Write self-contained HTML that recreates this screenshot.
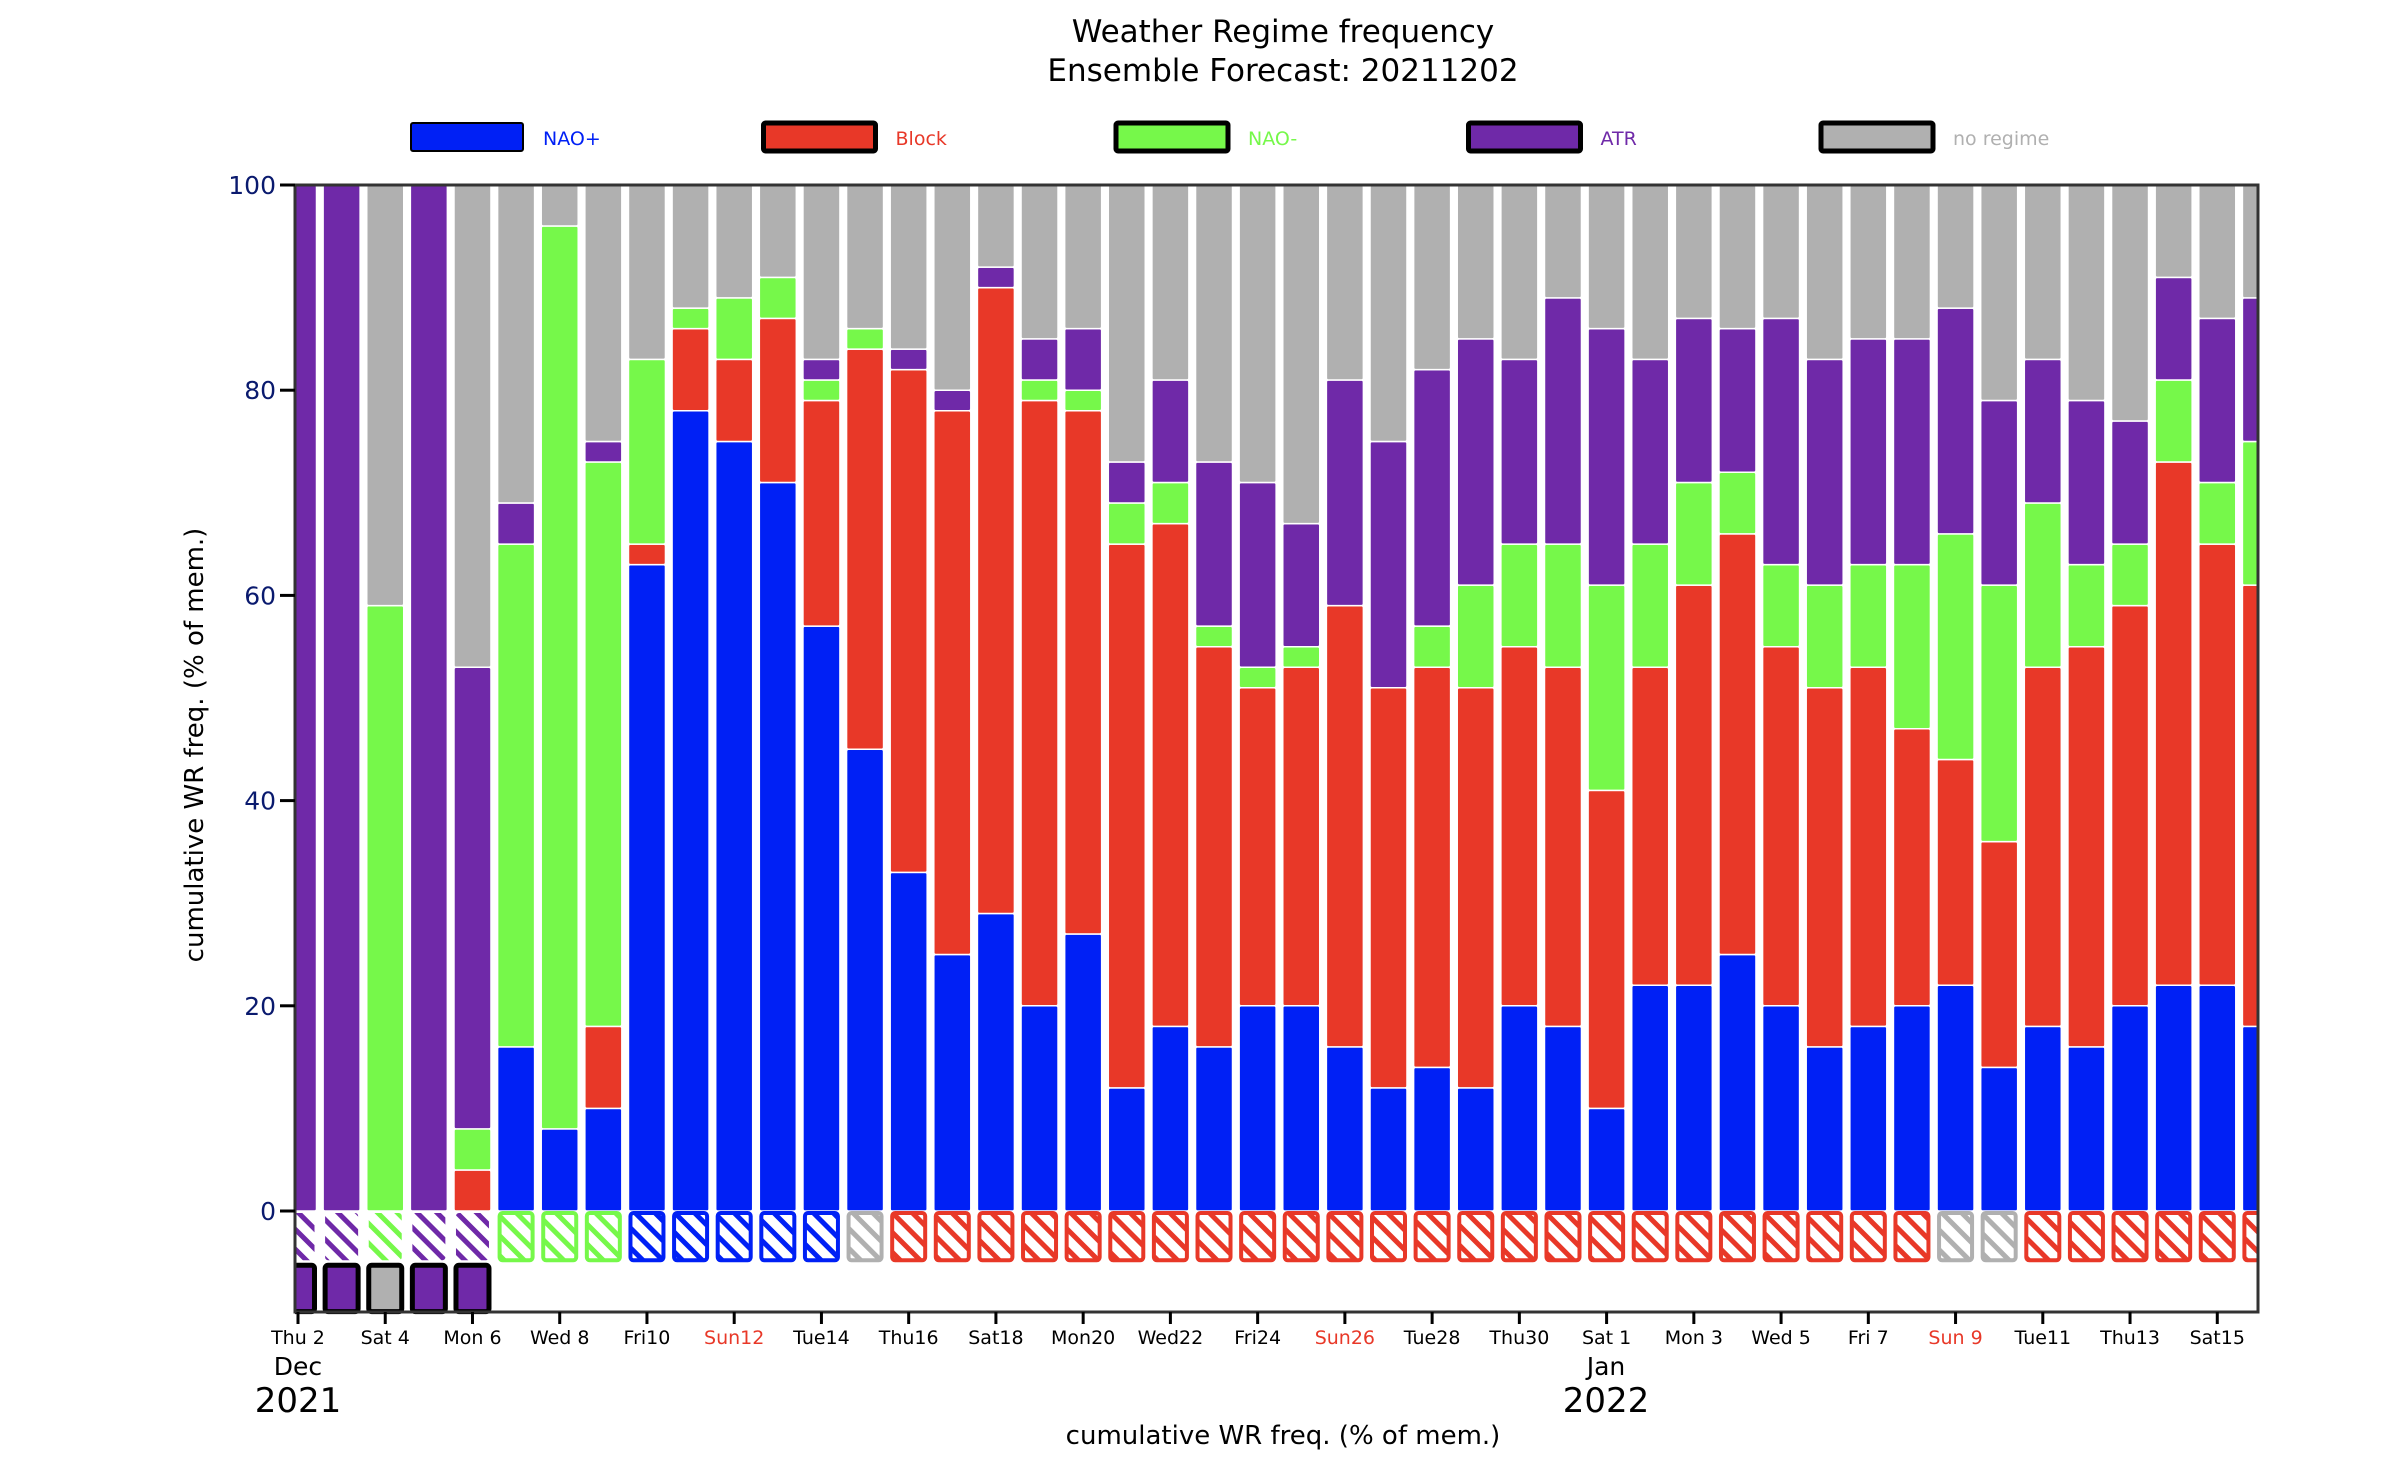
<!DOCTYPE html>
<html><head><meta charset="utf-8"><style>
body{margin:0;background:#fff}
svg{display:block;font-family:"DejaVu Sans","Liberation Sans",sans-serif}
</style></head><body>
<svg id="chart" width="2400" height="1457" viewBox="0 0 2400 1457" xmlns="http://www.w3.org/2000/svg">
<defs>
<clipPath id="plotclip"><rect x="295" y="150" width="1963" height="1170"/></clipPath>
</defs>
<text x="1283" y="42" font-size="31" text-anchor="middle">Weather Regime frequency</text>
<text x="1283" y="81" font-size="31" text-anchor="middle">Ensemble Forecast: 20211202</text>
<g id="legend"></g>
<g id="bars" clip-path="url(#plotclip)"></g>
<rect x="295" y="185" width="1963" height="1127" fill="none" stroke="#333" stroke-width="3"/>
<g id="axes"></g>
<text transform="translate(203,745) rotate(-90)" font-size="26" text-anchor="middle">cumulative WR freq. (% of mem.)</text>
<text x="1283" y="1444" font-size="26" text-anchor="middle">cumulative WR freq. (% of mem.)</text>
<text x="298" y="1375" font-size="25" text-anchor="middle">Dec</text>
<text x="298" y="1412" font-size="34" text-anchor="middle">2021</text>
<text x="1606" y="1375" font-size="25" text-anchor="middle">Jan</text>
<text x="1606" y="1412" font-size="34" text-anchor="middle">2022</text>
</svg>
<script>
const regimes = ["NAO+","Block","NAO-","ATR","no regime"];
const colors = ["#0020f5","#e83828","#76f84a","#6f29a8","#b0b0b0"];
const naoPlus = [0,0,0,0,0,16,8,10,63,78,75,71,57,45,33,25,29,20,27,12,18,16,20,20,16,12,14,12,20,18,10,22,22,25,20,16,18,20,22,14,18,16,20,22,22,18];
const block = [0,0,0,0,4,0,0,8,2,8,8,16,22,39,49,53,61,59,51,53,49,39,31,33,43,39,39,39,35,35,31,31,39,41,35,35,35,27,22,22,35,39,39,51,43,43];
const naoMinus = [0,0,59,0,4,49,88,55,18,2,6,4,2,2,0,0,0,2,2,4,4,2,2,2,0,0,4,10,10,12,20,12,10,6,8,10,10,16,22,25,16,8,6,8,6,14];
const atr = [100,100,0,100,45,4,0,2,0,0,0,0,2,0,2,2,2,4,6,4,10,16,18,12,22,24,25,24,18,24,25,18,16,14,24,22,22,22,22,18,14,16,12,10,16,14];
const dominant = [3,3,2,3,3,2,2,2,0,0,0,0,0,4,1,1,1,1,1,1,1,1,1,1,1,1,1,1,1,1,1,1,1,1,1,1,1,1,4,4,1,1,1,1,1,1];
const observed = [3,3,4,3,3];
const yTicks = [0,20,40,60,80,100];
const xTickLabels = ["Thu 2","Sat 4","Mon 6","Wed 8","Fri10","Sun12","Tue14","Thu16","Sat18","Mon20","Wed22","Fri24","Sun26","Tue28","Thu30","Sat 1","Mon 3","Wed 5","Fri 7","Sun 9","Tue11","Thu13","Sat15"];
const NS="http://www.w3.org/2000/svg";
const x = d => 298 + d*43.62;
const y = v => 1211 - v*10.26;
const BW = 37;
function mk(tag, attrs, parent){const e=document.createElementNS(NS,tag);for(const k in attrs)e.setAttribute(k,attrs[k]);parent.appendChild(e);return e;}
const svg=document.getElementById('chart');
const defs=svg.querySelector('defs');
colors.forEach((c,i)=>{
  const p=mk('pattern',{id:'hatch'+i,width:14,height:14,patternUnits:'userSpaceOnUse',patternTransform:'rotate(45)'},defs);
  mk('rect',{x:0,y:0,width:14,height:14,fill:'#fff'},p);
  mk('rect',{x:0,y:0,width:14,height:5,fill:c},p);
});
const bars=document.getElementById('bars');
const series=[naoPlus,block,naoMinus,atr];
for(let d=0; d<naoPlus.length; d++){
  let cum=0;
  const vals=series.map(s=>s[d]);
  vals.push(100-vals.reduce((a,b)=>a+b,0));
  vals.forEach((v,r)=>{
    if(v<=0)return;
    const r1=mk('rect',{x:x(d)-BW/2,y:y(cum+v),width:BW,height:y(cum)-y(cum+v),fill:colors[r],stroke:'#fff','stroke-width':1.5,rx:2},bars);
    
    
    cum+=v;
  });
  const h=mk('rect',{x:x(d)-BW/2+2,y:y(0)+2,width:BW-4,height:y(-5)-y(0)-4,fill:'url(#hatch'+dominant[d]+')',stroke:d<5?'none':colors[dominant[d]],'stroke-width':4,rx:3},bars);
  
  
  if(d<observed.length){
    const o=mk('rect',{x:x(d)-BW/2+2,y:y(-5)+3,width:BW-4,height:y(-10)-y(-5)-5,fill:colors[observed[d]],stroke:'#000','stroke-width':5,rx:3},bars);
    
    
  }
}
const axes=document.getElementById('axes');
yTicks.forEach(t=>{
  const l=mk('line',{x1:280,x2:295,y1:y(t),y2:y(t),stroke:'#000','stroke-width':3},axes);
  
  
  const tx=mk('text',{x:276,y:y(t)+9,'font-size':25,'text-anchor':'end',fill:'#0a1a6e'},axes);
  tx.textContent=t;
  
  
});
xTickLabels.forEach((lab,i)=>{
  const d=i*2;
  const l=mk('line',{x1:x(d),x2:x(d),y1:1312,y2:1324,stroke:'#000','stroke-width':3},axes);
  
  
  const tx=mk('text',{x:x(d),y:1344,'font-size':19,'text-anchor':'middle',fill:lab.startsWith('Sun')?'#e83828':'#000'},axes);
  tx.textContent=lab;
  
  
});
const leg=document.getElementById('legend');
const legTextColors=["#0020f5","#e83828","#76f84a","#6f29a8","#b0b0b0"];
regimes.forEach((r,i)=>{
  const lx=411+i*352.5;
  const p=mk('rect',{x:lx,y:123,width:112,height:28,fill:colors[i],stroke:'#000','stroke-width':i===0?2:5,rx:2},leg);
  
  
  const t=mk('text',{x:lx+132,y:145,'font-size':19,fill:legTextColors[i]},leg);
  t.textContent=r;
  
  
});
</script>
</body></html>
